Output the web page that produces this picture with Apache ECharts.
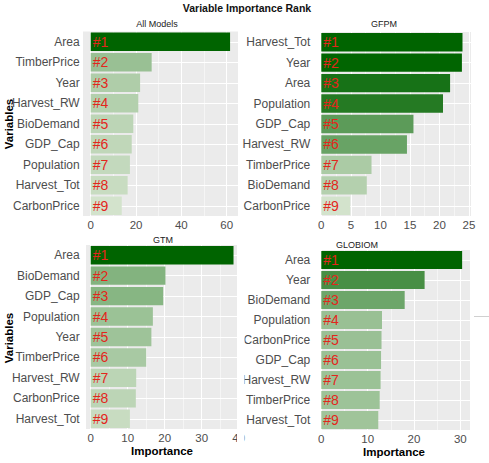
<!DOCTYPE html>
<html>
<head>
<meta charset="utf-8">
<script src="https://cdn.jsdelivr.net/npm/echarts@6/dist/echarts.min.js"></script>
<style>
  html, body { margin: 0; padding: 0; background: #fff; }
  #chart { width: 489px; height: 463px; }
</style>
</head>
<body>
<div id="chart"></div>
<script>
// values, ordered by rank
const allCats = ['Area', 'TimberPrice', 'Year', 'Harvest_RW', 'BioDemand', 'GDP_Cap', 'Population', 'Harvest_Tot', 'CarbonPrice'];
const allVals = [61.5, 26.9, 21.8, 21.0, 18.8, 18.1, 17.3, 16.3, 13.7];
const allTicks = [0, 20, 40, 60];

const gfpmCats = ['Harvest_Tot', 'Year', 'Area', 'Population', 'GDP_Cap', 'Harvest_RW', 'TimberPrice', 'BioDemand', 'CarbonPrice'];
const gfpmVals = [23.9, 23.8, 21.8, 20.6, 15.6, 14.5, 8.5, 7.7, 4.9];
const gfpmTicks = [0, 5, 10, 15, 20, 25];

const gtmCats = ['Area', 'BioDemand', 'GDP_Cap', 'Population', 'Year', 'TimberPrice', 'Harvest_RW', 'CarbonPrice', 'Harvest_Tot'];
const gtmVals = [38.6, 20.2, 19.6, 16.8, 16.4, 15.0, 12.3, 12.2, 10.6];
const gtmTicks = [0, 10, 20, 30, 40];

const globiomCats = ['Area', 'Year', 'BioDemand', 'Population', 'CarbonPrice', 'GDP_Cap', 'Harvest_RW', 'TimberPrice', 'Harvest_Tot'];
const globiomVals = [30.4, 22.3, 18.0, 13.1, 13.0, 12.9, 12.8, 12.6, 12.3];
const globiomTicks = [0, 10, 20, 30];

const chart = echarts.init(document.getElementById('chart'), null, { renderer: 'svg' });

const grids = [];
const xAxes = [];
const yAxes = [];
const series = [];
const visualMaps = [];

// 一个小图：网格 + 坐标轴 + 柱子
function addPanel(i, cats, vals, ticks, box, colorMin) {
  grids.push({
    left: box.left, top: box.top, width: box.width, height: box.height,
    show: true, backgroundColor: '#ebebeb', borderWidth: 0
  });
  xAxes.push({
    gridIndex: i,
    type: 'value',
    min: ticks[0],
    max: box.max,
    interval: ticks[1] - ticks[0],
    axisLine: { show: false },
    axisTick: { show: false },
    axisLabel: { color: '#4d4d4d', fontSize: 11.5, margin: 3, showMaxLabel: false, fontFamily: 'Liberation Sans' },
    splitLine: { show: true, lineStyle: { color: '#ffffff', width: 1 } },
    minorTick: { show: false, splitNumber: 2 },
    minorSplitLine: { show: true, lineStyle: { color: '#ffffff', width: 0.5 } }
  });
  yAxes.push({
    gridIndex: i,
    type: 'category',
    data: cats,
    inverse: true,
    axisLine: { show: false },
    axisTick: { show: false },
    axisLabel: { color: '#4d4d4d', fontSize: 12, margin: 11, interval: 0, fontFamily: 'Liberation Sans' },
    splitLine: { show: true, alignWithLabel: true, lineStyle: { color: '#ffffff', width: 1 } }
  });
  series.push({
    type: 'bar',
    xAxisIndex: i,
    yAxisIndex: i,
    data: vals.map((v, k) => [v, cats[k]]),
    encode: { x: 0, y: 1 },
    barCategoryGap: '10%',
    silent: true,
    label: {
      show: true,
      position: 'insideLeft',
      distance: 2,
      formatter: (p) => '#' + (p.dataIndex + 1),
      color: '#e3261c',
      fontSize: 14,
      fontFamily: 'Liberation Sans',
      textBorderWidth: 0
    }
  });
  visualMaps.push({
    type: 'continuous',
    show: false,
    seriesIndex: i,
    dimension: 0,
    min: colorMin,
    max: Math.max(...vals),
    inRange: { color: ['#d3e3cc', '#006400'] }
  });
}

addPanel(0, allCats, allVals, allTicks, { left: 90.7, top: 31.5, width: 147.3, height: 184.5, max: 65.0 }, 13.7);
addPanel(1, gfpmCats, gfpmVals, gfpmTicks, { left: 321.3, top: 32, width: 149.7, height: 184, max: 25.34 }, 4.9);
addPanel(2, gtmCats, gtmVals, gtmTicks, { left: 90.7, top: 245, width: 149.1, height: 184, max: 40.3 }, 9);
addPanel(3, globiomCats, globiomVals, globiomTicks, { left: 321.3, top: 250, width: 149.4, height: 180, max: 32.25 }, 6.5);

const textFont = 'Liberation Sans';

const option = {
  animation: false,
  backgroundColor: '#ffffff',
  grid: grids,
  xAxis: xAxes,
  yAxis: yAxes,
  visualMap: visualMaps,
  series: series,
  graphic: [
    // ggplot 的左侧留白
    { type: 'rect', shape: { x: 83, y: 31.5, width: 8, height: 184.5 }, style: { fill: '#ebebeb' }, silent: true },
    { type: 'rect', shape: { x: 86, y: 245, width: 5, height: 184 }, style: { fill: '#ebebeb' }, silent: true },
    // GTM 图右边被裁掉
    { type: 'rect', shape: { x: 237, y: 238, width: 7.5, height: 225 }, style: { fill: '#ffffff' }, z: 100, silent: true },
    { type: 'line', shape: { x1: 474, y1: 316.5, x2: 489, y2: 316.5 }, style: { stroke: '#d0d0d0', lineWidth: 1 }, silent: true },
    { type: 'text', x: 247, y: 8, style: { text: 'Variable Importance Rank', align: 'center', verticalAlign: 'middle', fontSize: 10.5, fontWeight: 'bold', fill: '#111', fontFamily: textFont } },
    { type: 'text', x: 157, y: 23.5, style: { text: 'All Models', align: 'center', verticalAlign: 'middle', fontSize: 9, fill: '#222', fontFamily: textFont } },
    { type: 'text', x: 384, y: 23.5, style: { text: 'GFPM', align: 'center', verticalAlign: 'middle', fontSize: 9, fill: '#222', fontFamily: textFont } },
    { type: 'text', x: 163, y: 240, style: { text: 'GTM', align: 'center', verticalAlign: 'middle', fontSize: 9, fill: '#222', fontFamily: textFont } },
    { type: 'text', x: 357, y: 244.5, style: { text: 'GLOBIOM', align: 'center', verticalAlign: 'middle', fontSize: 9, fill: '#222', fontFamily: textFont } },
    { type: 'text', x: 8.5, y: 124, rotation: Math.PI / 2, style: { text: 'Variables', align: 'center', verticalAlign: 'middle', fontSize: 11.5, fontWeight: 'bold', fill: '#000', fontFamily: textFont } },
    { type: 'text', x: 8.5, y: 338, rotation: Math.PI / 2, style: { text: 'Variables', align: 'center', verticalAlign: 'middle', fontSize: 11.5, fontWeight: 'bold', fill: '#000', fontFamily: textFont } },
    { type: 'text', x: 162, y: 451, style: { text: 'Importance', align: 'center', verticalAlign: 'middle', fontSize: 11.5, fontWeight: 'bold', fill: '#000', fontFamily: textFont } },
    { type: 'text', x: 394, y: 452, style: { text: 'Importance', align: 'center', verticalAlign: 'middle', fontSize: 11.5, fontWeight: 'bold', fill: '#000', fontFamily: textFont } }
  ]
};

chart.setOption(option);
</script>
</body>
</html>
